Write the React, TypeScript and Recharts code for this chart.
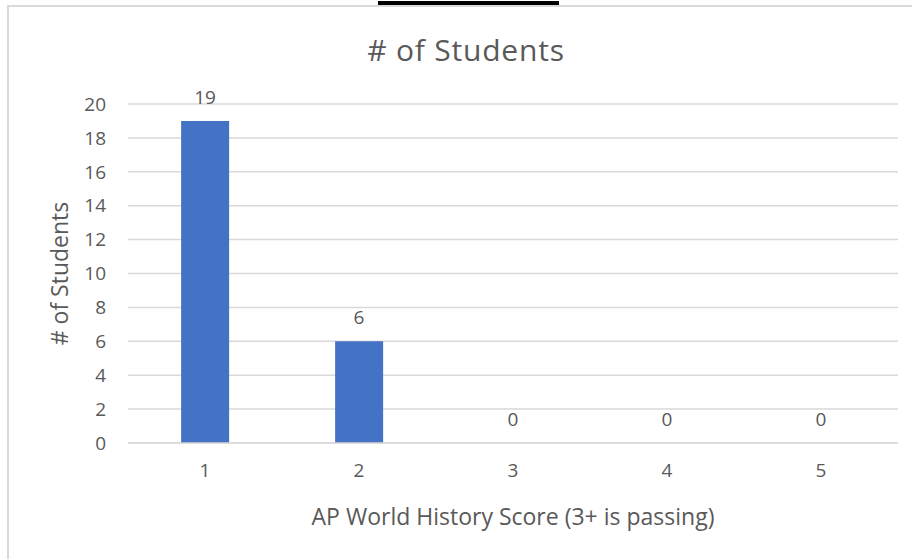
import React from "react";
import { ComposedChart, Bar, Line, XAxis, YAxis, CartesianGrid, LabelList, Label } from "recharts";

const categories = ["1", "2", "3", "4", "5"];
const students = [19, 6, 0, 0, 0];
const yTicks = [0, 2, 4, 6, 8, 10, 12, 14, 16, 18, 20];

const data = categories.map((c, i) => ({ score: c, count: students[i] }));

const FONT = "'Open Sans', 'Noto Sans', sans-serif";
const TXT = "#595959";

export default function App() {
  return (
    <div style={{ position: "absolute", left: 0, top: 0, width: 912, height: 559, background: "#fff", overflow: "hidden", fontFamily: FONT }}>
      <div style={{ position: "absolute", left: 7, top: 5, width: 920, height: 570, border: "2px solid #d9d9d9", boxSizing: "border-box" }} />
      <div style={{ position: "absolute", left: 378, top: 1, width: 181, height: 4, background: "#000" }} />
      <div style={{ position: "absolute", left: 0, width: 932, top: 30, textAlign: "center", fontSize: 30, letterSpacing: 0.8, color: TXT, lineHeight: "40px" }}>
        # of Students
      </div>
      <div style={{ position: "absolute", left: 0, top: 0 }}>
        <ComposedChart width={912} height={559} data={data} margin={{ top: 104, right: 14, bottom: 86, left: 68 }} barCategoryGap="34.5%">
          <CartesianGrid vertical={false} stroke="#d9d9d9" strokeWidth={1.5} />
          <XAxis dataKey="score" axisLine={{ stroke: "#d9d9d9", strokeWidth: 1.5 }} tickLine={false} tickSize={0} tickMargin={21} height={30}
            tick={{ fill: TXT, fontSize: 19, fontFamily: FONT }}>
            <Label value="AP World History Score (3+ is passing)" position="bottom" offset={36} fill={TXT} fontSize={23} fontFamily={FONT} />
          </XAxis>
          <YAxis width={60} domain={[0, 20]} ticks={yTicks} axisLine={false} tickLine={false} tickSize={0} tickMargin={22}
            tick={{ fill: TXT, fontSize: 19, fontFamily: FONT }}>
            <Label value="# of Students" angle={-90} position="insideLeft" offset={0} dx={-8} fill={TXT} fontSize={23} fontFamily={FONT} style={{ textAnchor: "middle" }} />
          </YAxis>
          <Bar dataKey="count" fill="#4472c4" isAnimationActive={false} />
          <Line dataKey="count" stroke="none" dot={false} activeDot={false} isAnimationActive={false} legendType="none">
            <LabelList dataKey="count" position="top" offset={17} fill={TXT} fontSize={19} fontFamily={FONT} />
          </Line>
        </ComposedChart>
      </div>
    </div>
  );
}
